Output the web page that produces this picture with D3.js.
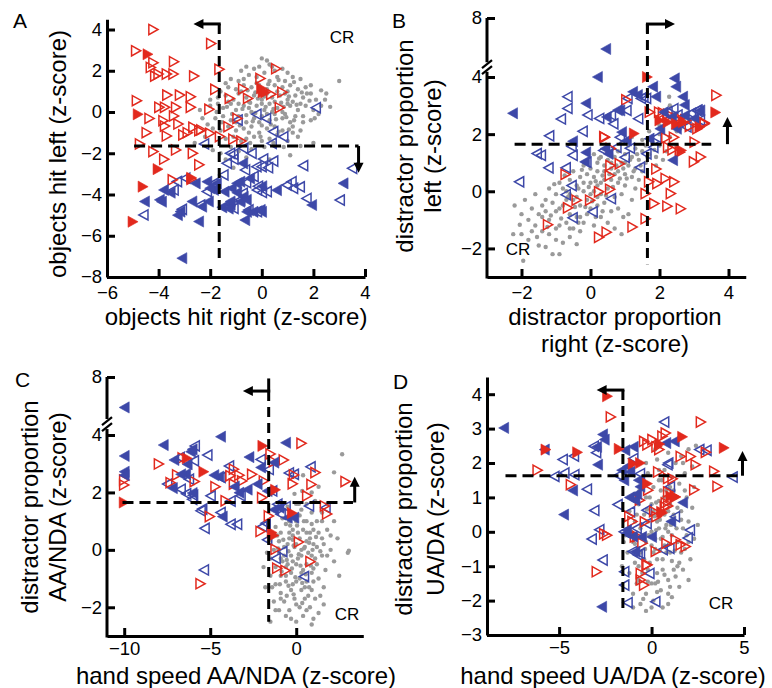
<!DOCTYPE html>
<html><head><meta charset="utf-8">
<script src="https://cdn.jsdelivr.net/npm/d3@7"></script>
<style>body{margin:0;background:#fff}svg{display:block}</style>
</head><body><svg id="c" width="772" height="688"></svg>
<script>
const FONT='"Liberation Sans", Arial, Helvetica, sans-serif';
const RED="#e2291d", BLUE="#3d48a8", GRAY="#9a9a9a";

// ---------- Panel A ----------
const A_xTicks=[-6,-4,-2,0,2,4];
const A_yTicks=[-8,-6,-4,-2,0,2,4];
const A_gray=[[0,2.6],[0.2,2.5],[0.3,2.3],[-0.6,2.2],[-0.3,2.1],[-0.8,2.0],[0.5,2.0],[0.8,2.1],[1.0,1.9],[-0.1,2.2],[0.4,2.2],
[-1.2,1.6],[-0.5,1.8],[-0.2,1.7],[0.1,1.9],[0.6,1.7],[1.2,1.7],[1.5,1.6],[-0.9,1.5],[0.3,1.5],[0.9,1.5],[3.0,1.5],[-1.4,1.4],[-0.7,1.6],
[-1.6,1.0],[-1.3,1.2],[-1.0,1.1],[-0.7,1.3],[-0.4,1.2],[-0.1,1.3],[0.2,1.1],[0.5,1.3],[0.8,1.2],[1.1,1.3],[1.4,1.1],[1.7,1.2],[2.3,1.05],[-0.8,1.0],[0.0,1.0],[0.6,1.0],[1.0,1.0],[1.9,1.3],[-0.2,1.4],
[-2.0,0.6],[-1.7,0.7],[-1.4,0.8],[-1.1,0.6],[-0.9,0.9],[-0.6,0.7],[-0.3,0.8],[0.0,0.6],[0.2,0.9],[0.4,0.7],[0.7,0.8],[1.0,0.6],[1.3,0.8],[1.6,0.7],[1.9,0.9],[2.45,0.6],[1.75,0.9],[-0.5,0.5],[0.5,0.5],[1.2,0.5],[-1.3,0.5],[0.9,0.9],[2.1,0.6],
[-2.4,0.1],[-2.0,0.3],[-1.75,0.0],[-1.5,0.2],[-1.2,0.4],[-1.0,0.1],[-0.7,0.3],[-0.4,0.0],[-0.2,0.3],[0.1,0.1],[0.3,0.4],[0.6,0.2],[0.8,0.0],[1.1,0.3],[1.4,0.1],[1.7,0.3],[2.0,0.1],[2.65,0.25],[2.3,0.3],[-0.9,0.4],[0.4,0.0],[1.0,0.4],[1.5,0.4],[-0.5,0.2],[0.0,0.4],
[-2.1,-0.6],[-1.8,-0.3],[-1.5,-0.2],[-1.2,-0.4],[-0.9,-0.2],[-0.6,-0.5],[-0.3,-0.3],[0.0,-0.2],[0.3,-0.4],[0.5,-0.1],[0.8,-0.3],[1.1,-0.5],[1.3,-0.2],[1.6,-0.2],[1.9,-0.4],[-0.1,-0.5],[0.9,-0.1],[-1.0,-0.5],[2.2,-0.1],
[-1.9,-0.8],[-1.6,-0.9],[-1.3,-0.7],[-1.0,-0.9],[-0.7,-0.8],[-0.4,-0.7],[-0.1,-1.0],[0.2,-0.8],[0.5,-0.7],[0.8,-0.9],[1.2,-0.7],[1.5,-0.9],[-0.5,-1.0],[0.0,-0.65],
[-2.6,-1.5],[-2.2,-1.2],[-1.4,-1.3],[-1.1,-1.2],[-0.8,-1.4],[-0.3,-1.2],[0.3,-1.3],[0.6,-1.1],[1.0,-1.4],[1.4,-1.2],[-0.6,-1.3],[0.0,-1.4],
[-1.9,-1.85],[-1.2,-1.7],[-0.9,-1.9],[-0.4,-1.8],[0.1,-1.7],[0.85,-1.7],[2.0,-1.5],[1.5,-1.65],[-1.6,-2.0],
[1.1,-2.1],[-1.1,-2.7],[-0.6,-2.2],[0.3,-2.3],[-1.4,-2.3],
[-0.75,0.15],[-0.45,0.45],[-0.15,0.65],[0.15,0.25],[0.45,0.15],[0.75,0.45],[1.05,0.75],[1.35,0.35],[-0.6,-0.15],[-0.25,-0.05],[0.2,-0.1],[0.55,-0.35],[0.95,-0.25],[1.25,-0.4],[-0.85,-0.65],[-0.35,-0.45],[0.35,-0.6],[0.65,-0.95],[1.05,-0.85],[-1.15,-0.1],[-1.35,0.25],[-0.55,1.05],[-0.25,0.95],[0.25,1.35],[0.65,1.55],[1.25,1.45],[1.55,0.95],[1.85,0.55],[2.05,-0.3],[-1.55,-0.5],[-0.05,-1.2],[0.45,-1.5],[1.2,-1.0],[0.1,0.75],[0.85,0.25],[-0.45,-1.5],[-1.7,0.4],[1.6,-0.5],[2.5,0.9],[-2.3,-0.3]];
const A_redOpen=[[-4.2,4.0],[-1.96,3.32],[-4.87,2.97],[-3.4,2.44],[-4.2,2.39],[-4.3,2.16],[-4.13,1.74],[-4.0,1.84],[-3.68,1.84],[-3.42,1.84],[-2.62,1.74],[-1.64,2.07],[0.56,2.1],[-0.05,1.63],[-1.8,1.1],[-0.72,1.12],[-4.84,0.55],[-3.66,0.82],[-3.17,0.82],[-2.75,0.74],[-1.24,0.66],[-0.53,0.66],[0.37,0.86],[0.8,0.96],[-3.97,0.23],[-3.75,0.23],[-3.32,0.23],[-2.75,0.23],[-2.03,0.13],[-4.35,-0.31],[-3.4,-0.19],[-3.81,-0.42],[-3.75,-0.68],[-3.23,-0.58],[-2.65,-0.74],[-4.46,-1.0],[-3.68,-1.16],[-3.04,-1.11],[-2.87,-1.0],[-2.42,-0.9],[-2.0,-1.03],[-1.29,-0.71],[-0.94,-0.31],[-1.62,-1.19],[-1.1,-1.32],[-4.72,-1.55],[-4.2,-1.92],[-3.32,-1.84],[-2.67,-2.0],[-3.78,-2.29],[-2.42,-2.56],[-3.45,-3.29],[-2.72,-3.26],[0.7,0.21],[-0.79,-1.41],[-2.34,-0.87]];
const A_redFill=[[-4.41,2.8],[-4.79,-0.11],[-4.02,-2.77],[-4.6,-3.62],[-4.99,-5.32],[-2.72,-3.19],[-0.01,1.15],[0.05,0.96],[0.15,0.95]];
const A_blueOpen=[[2.09,0.21],[-0.21,-0.11],[0.16,-0.31],[-0.94,-0.39],[0.44,-0.95],[0.83,-1.2],[0.38,-1.52],[-0.72,-1.76],[-0.4,-2.0],[-1.11,-2.05],[0.05,-2.28],[0.44,-2.38],[-0.01,-2.65],[0.24,-2.7],[1.6,-2.6],[3.5,-2.73],[1.15,-3.38],[1.47,-3.63],[1.21,-3.7],[0.96,-3.54],[1.73,-4.19],[3.02,-4.27],[-1.23,-2.0],[-1.36,-2.49],[-1.1,-2.29],[-2.24,-1.55],[-0.65,-2.81],[-1.49,-3.05],[-0.32,-3.13],[-0.19,-3.78],[0.19,-3.86],[-0.61,-3.42],[-0.74,-3.94],[-0.84,-4.26],[-0.52,-4.75],[-0.19,-4.83],[-1.87,-3.46],[-2.13,-3.86],[-2.39,-4.51],[-3.1,-4.72],[-3.42,-3.78],[-3.29,-3.37],[-2.97,-3.21],[-4.59,-4.99],[-1.23,-4.46],[-1.1,-4.67],[-0.21,-2.65],[-0.15,-3.6],[0.0,-3.9]];
const A_blueFill=[[3.15,-3.46],[1.93,-4.51],[0.57,-3.79],[-0.85,-3.38],[-0.98,-3.46],[-0.72,-4.11],[-0.85,-4.35],[-1.24,-4.51],[-0.59,-4.84],[-0.34,-4.84],[-0.01,-4.84],[-0.66,-5.24],[-0.47,-3.22],[-0.74,-2.49],[-1.46,-3.86],[-1.87,-3.78],[-2.13,-3.38],[-2.58,-3.46],[-2.71,-4.34],[-2.45,-5.31],[-3.1,-7.09],[-3.55,-3.91],[-3.81,-3.78],[-3.97,-4.26],[-4.55,-4.34],[-3.17,-4.83],[-2.07,-4.34],[-2.33,-4.59],[-1.55,-4.62],[-1.23,-4.34],[-0.97,-3.91],[-0.6,-4.26],[0.0,-3.6],[-0.06,-4.75],[-3.89,-4.35],[-3.27,-5.0],[-1.76,-3.46],[-2.02,-3.7],[-1.3,-4.68],[-1.18,-3.7]];

// ---------- Panel B ----------
const B_xTicks=[-2,0,2,4];
const B_yTicks=[-2,0,2,4,8];
const B_gray=[[-1.95,-2.43],[-2.24,-1.5],[-2.05,-1.17],[-1.8,-1.7],[-1.5,-1.9],[-1.3,-1.95],[-1.1,-2.2],[-0.9,-2.2],[-1.6,-1.2],[-1.4,-1.4],[-1.2,-1.5],[-1.0,-1.7],[-0.8,-1.8],[-0.6,-1.6],[-0.4,-1.85],[-2.2,-0.5],[-2.0,-0.8],[-1.8,-1.0],[-1.7,-0.6],[-1.5,-0.8],[-1.3,-0.3],[-1.2,-1.0],[-1.0,-0.7],[-0.9,-1.2],[-0.7,-1.1],[-0.5,-1.3],[-0.3,-1.4],[-0.2,-1.1],[-1.9,-0.3],[-1.6,-0.1],[-1.4,-0.5],[-1.1,-0.4],[-0.8,-0.5],[-0.6,-0.8],[-0.4,-0.9],[-0.1,-0.8],[0.1,-1.2],[0.3,-0.9],[0.5,-1.1],[0.7,-1.3],[0.9,-1.5],[-1.2,0.1],[-1.0,-0.1],[-0.7,0.0],[-0.5,-0.3],[-0.3,-0.5],[-0.1,-0.3],[0.0,-0.6],[0.2,-0.5],[0.4,-0.4],[0.6,-0.7],[0.8,-0.6],[1.1,-0.8],[-0.9,0.3],[-0.6,0.4],[-0.4,0.2],[-0.2,0.0],[0.0,0.3],[0.1,0.0],[0.3,-0.1],[0.5,0.1],[0.7,-0.2],[0.9,-0.1],[1.2,-0.3],[-0.5,0.7],[-0.3,0.5],[-0.1,0.6],[0.1,0.5],[0.3,0.3],[0.4,0.7],[0.6,0.4],[0.8,0.3],[1.0,0.2],[1.3,0.1],[-0.2,0.9],[0.0,0.8],[0.2,1.0],[0.4,0.9],[0.6,0.8],[0.8,0.7],[1.0,0.6],[1.2,0.5],[1.4,0.4],[0.1,1.3],[0.3,1.2],[0.5,1.1],[0.7,1.2],[0.9,1.0],[1.1,0.9],[1.3,0.8],[1.5,0.7],[0.5,1.5],[0.8,1.4],[1.0,1.3],[1.2,1.2],[1.4,1.1],[1.6,1.0],[0.9,1.7],[1.1,1.6],[1.3,1.5],[1.5,1.4],[1.7,1.3],[1.9,1.2],[1.2,1.9],[1.5,1.8],[1.8,1.7],[2.0,1.6],[2.2,1.4],[1.7,2.1],[2.0,2.0],[2.3,1.9],[2.5,2.1],[2.2,2.4],[2.4,2.7],[2.7,2.5],[2.3,3.0],[2.0,2.3],[-0.2,0.3],[0.2,-0.2],[-0.7,-0.3],[-0.4,-0.2],[0.4,0.4],[0.7,0.6],[-0.8,0.1],[-1.4,-0.9],[-1.7,-1.4],[0.2,0.7],[0.6,1.3],[1.0,1.0],[-0.3,-0.9],[0.0,-0.1],[-2.0,-1.5],[-1.0,-1.3],[2.28,3.31],[2.6,2.2],[-1.3,-0.7],[-0.6,-0.1],[0.2,0.2],
[-0.9,-0.6],[-0.65,-0.2],[-0.35,0.1],[-0.05,0.15],[0.15,0.35],[0.35,0.55],[0.55,0.6],[0.75,0.9],[0.95,0.8],[1.15,1.1],[1.35,1.3],[-0.45,-0.55],[-0.15,-0.55],[0.05,-0.35],[0.45,-0.15],[0.65,0.15],[0.85,0.45],[1.05,0.45],[1.25,0.7],[1.45,0.9],[1.65,1.2],[1.85,1.45],[-1.15,-0.85],[-0.85,-0.95],[-0.6,-1.3],[-1.25,-1.25],[-1.55,-1.6],[-0.25,0.75],[0.25,1.15],[0.6,1.0],[1.6,1.6],[-0.75,0.55],[-1.05,0.25],[0.35,-0.7],[0.95,-0.9],[1.9,0.9],[2.1,1.1],[2.5,1.6],[-0.35,-1.1],[0.15,-0.9]];
const B_redOpen=[[3.65,3.36],[1.04,3.2],[1.72,2.77],[1.99,2.77],[2.25,2.7],[2.59,2.54],[2.78,2.48],[3.31,2.36],[2.88,2.27],[3.1,2.19],[0.42,1.89],[2.2,1.87],[2.42,1.89],[3.02,1.72],[2.25,1.54],[2.59,1.37],[2.38,1.45],[3.0,1.03],[3.2,1.2],[0.58,0.9],[-0.72,0.59],[0.56,0.55],[0.85,0.96],[1.91,0.78],[1.7,0.33],[1.94,0.27],[2.18,0.45],[2.43,0.33],[1.6,-0.08],[2.33,-0.08],[0.57,0.07],[0.25,-0.02],[-0.01,-0.31],[-0.4,-0.31],[-0.65,-0.58],[1.85,-0.43],[2.23,-0.52],[2.62,-0.61],[-1.23,-1.17],[1.22,-1.25],[1.6,-0.96],[0.25,-1.61],[0.47,-1.43],[0.4,1.91],[0.59,1.5],[2.23,2.6],[2.5,2.55],[2.75,2.5],[3.3,2.4],[2.1,2.75]];
const B_redFill=[[1.65,4.0],[3.63,2.76],[1.27,2.02],[2.01,2.48],[2.49,2.36],[2.69,2.42],[2.25,2.42],[2.64,1.43],[3.17,2.25]];
const B_blueOpen=[[-1.56,1.32],[-1.44,1.26],[-1.2,1.94],[-1.22,0.82],[-0.86,2.53],[-0.67,2.9],[-0.67,3.31],[-0.52,1.26],[-0.23,2.1],[-0.09,2.67],[0.25,2.55],[0.59,2.67],[-0.55,1.57],[-0.72,0.82],[-0.72,-0.12],[-0.52,-0.93],[0.06,-0.72],[0.59,-0.26],[-0.12,1.02],[0.37,1.43],[0.66,2.36],[1.04,2.83],[0.85,1.89],[0.75,1.54],[0.99,1.19],[1.14,1.51],[1.38,2.54],[1.53,3.3],[1.07,3.25],[1.46,3.25],[1.61,3.25],[1.82,1.54],[1.91,1.89],[2.4,2.89],[2.78,2.25],[3.07,2.83],[3.17,2.48],[2.23,2.78],[2.52,2.67],[2.91,2.73],[3.1,2.84],[1.62,1.31],[1.43,0.84],[-2.07,0.33],[-0.55,0.2]];
const B_blueFill=[[0.44,5.9],[0.2,4.0],[-2.26,2.73],[-0.14,3.08],[0.85,2.83],[1.22,3.48],[1.36,3.37],[1.8,3.66],[2.43,3.95],[2.47,3.66],[1.89,3.31],[2.67,3.31],[2.72,3.02],[3.17,2.83],[2.11,2.77],[2.35,2.6],[2.49,2.19],[2.01,2.19],[1.7,1.84],[2.38,1.09],[0.9,2.07],[1.04,1.78],[0.42,1.49],[-0.17,1.03],[-0.14,1.36],[-0.52,1.75],[0.46,2.6],[0.51,1.31],[0.78,2.84],[3.0,2.55],[2.73,2.65]];

// ---------- Panel C ----------
const C_xTicks=[-10,-5,0];
const C_yTicks=[-2,0,2,4,8];
const C_gray=[[2.67,3.33],[2.2,2.7],[1.3,2.2],[0.9,2.0],[0.35,2.05],[-0.1,1.95],[1.8,1.6],[1.1,1.7],[0.6,1.6],[0.0,1.6],[-0.5,1.5],[1.5,1.3],[0.9,1.3],[0.3,1.4],[-0.3,1.2],[-0.8,1.1],[2.2,1.0],[1.2,1.0],[0.6,1.0],[0.0,1.0],[-0.6,0.9],[-1.2,0.8],[1.8,0.7],[1.0,0.7],[0.4,0.7],[-0.2,0.7],[-0.9,0.6],[2.4,0.4],[1.5,0.4],[0.8,0.4],[0.2,0.4],[-0.4,0.4],[-1.0,0.3],[-1.6,0.3],[1.2,0.1],[0.5,0.1],[-0.1,0.1],[-0.7,0.1],[-1.3,0.0],[2.0,0.0],[3.0,-0.1],[1.5,-0.2],[0.9,-0.2],[0.3,-0.2],[-0.3,-0.2],[-0.9,-0.3],[-1.5,-0.3],[2.2,-0.4],[1.2,-0.5],[0.6,-0.5],[0.0,-0.5],[-0.6,-0.6],[-1.2,-0.6],[-1.9,-0.6],[1.7,-0.7],[0.9,-0.8],[0.3,-0.8],[-0.3,-0.8],[-0.9,-0.9],[-1.5,-0.9],[2.5,-0.9],[1.3,-1.0],[0.6,-1.1],[0.0,-1.1],[-0.6,-1.1],[-1.2,-1.2],[1.6,-1.3],[0.9,-1.4],[0.3,-1.4],[-0.3,-1.4],[-0.9,-1.5],[1.1,-1.7],[0.5,-1.7],[-0.1,-1.7],[-0.7,-1.8],[-1.3,-1.8],[1.6,-1.9],[0.8,-2.0],[0.2,-2.0],[-0.4,-2.1],[-1.0,-2.1],[1.3,-2.2],[0.4,-2.3],[-0.6,-2.3],[-1.5,-2.5],[1.0,-2.4],[0.0,-2.5],
[0.1,0.6],[-0.5,0.2],[0.7,-0.1],[-0.2,-0.4],[0.4,-0.7],[-0.8,-0.4],[1.0,0.2],[-0.4,1.0],[0.2,1.2],[0.6,0.3],[-1.0,-0.1],[0.9,0.9],[1.3,0.6],[-0.6,-0.9],[0.2,-1.0],[-0.2,-1.2],[0.5,-1.3],[1.0,-1.1],[-1.1,0.5],[-0.4,0.6],[0.0,0.2],[0.3,0.0],[-0.7,-0.2],[1.6,0.2],[-1.4,-1.3],[-0.9,-1.7],[0.7,-1.6],[-1.2,-2.1],[0.0,-1.9],[0.6,-2.1],[1.8,-0.2],[-0.2,0.5],[0.8,0.6],[-0.5,-0.5],[0.1,-0.3],[1.1,-0.3],[-1.7,-0.1],[3.06,-0.03],
[-0.45,-0.05],[-0.15,0.15],[0.15,-0.15],[0.45,0.05],[0.75,0.25],[-0.75,0.35],[-0.35,0.85],[0.05,0.85],[0.45,1.0],[-0.55,-0.35],[-0.25,-0.65],[0.25,-0.55],[0.55,-0.85],[0.85,-0.55],[-0.85,-0.75],[-0.45,-1.25],[-0.05,-0.95],[0.35,-1.15],[0.75,-1.3],[-1.05,0.05],[-1.3,0.55],[1.15,0.45],[1.4,-0.05],[1.0,-0.65],[0.15,1.6],[-0.75,1.4],[-0.15,-1.55],[0.35,-1.85],[-0.55,-1.6],[1.4,-1.6],[-0.95,-1.2],[0.6,0.6],[-0.2,0.35],[0.95,0.0],[-1.8,-1.3],[2.0,0.5],[1.5,1.0],[0.4,2.6],[-0.3,-2.4],[0.9,-2.6]];
const C_redOpen=[[0.31,3.71],[-1.49,3.34],[-1.3,3.07],[-0.72,3.13],[-7.98,2.99],[-7.3,2.34],[-6.92,2.61],[-5.9,2.38],[-6.6,3.2],[-10.0,2.43],[-10.0,2.26],[-5.02,1.16],[-5.56,-1.18],[-4.69,2.2],[-4.1,1.71],[-3.62,2.81],[-3.82,2.58],[-3.62,2.29],[-3.14,2.4],[-2.56,2.63],[-1.88,2.4],[-0.13,2.61],[0.89,2.28],[0.64,1.88],[1.67,1.53],[1.8,1.25],[2.87,2.38],[1.12,2.69],[-2.07,0.64],[-1.59,1.18],[-1.2,0.02],[0.16,0.27],[0.83,-0.41],[-1.1,-0.64],[-0.62,-0.72],[-0.2,2.3],[-3.3,2.6],[-1.98,1.82]];
const C_redFill=[[-10.0,1.65],[-6.34,3.19],[-5.37,2.72],[-1.94,3.62],[-1.2,2.09],[-0.23,1.28],[-1.4,0.6],[-1.3,0.5]];
const C_blueOpen=[[-5.9,3.62],[-5.17,3.3],[-5.95,3.1],[-6.78,3.22],[-7.5,2.29],[-6.72,2.11],[-6.05,1.76],[-5.56,1.36],[-5.47,1.42],[-5.33,0.75],[-6.24,2.46],[-4.98,1.88],[-4.4,1.3],[-3.82,0.89],[-3.44,0.89],[-3.82,1.7],[-3.24,1.88],[-3.91,2.92],[-1.6,2.8],[-0.43,2.68],[0.83,2.89],[0.74,1.53],[1.7,1.47],[-1.78,0.93],[-1.98,0.81],[-1.69,0.35],[-0.81,-0.06],[-1.2,-0.3],[0.45,-0.93],[-5.37,-0.7],[-1.1,1.59],[-0.91,1.24],[-4.4,2.52],[-1.4,2.05],[-2.07,3.15],[-0.14,2.63],[-0.62,1.5],[-6.4,1.95],[-6.0,1.9]];
const C_blueFill=[[-10.0,5.9],[-10.0,3.27],[-10.0,2.72],[-10.0,2.6],[-7.73,3.65],[-7.11,3.13],[-6.14,3.42],[-6.05,3.5],[-6.43,2.64],[-7.2,2.15],[-6.05,1.98],[-4.4,3.94],[-4.5,2.55],[-4.3,1.16],[-3.33,1.99],[-2.85,2.1],[-2.75,3.23],[-2.07,2.87],[-2.27,2.29],[-1.69,2.05],[-0.62,3.73],[-1.0,1.47],[-0.52,1.12],[-0.14,1.12],[-4.79,2.6],[-1.3,3.04],[-6.72,2.63],[-6.34,2.98],[-3.6,2.2],[-1.3,1.4]];

// ---------- Panel D ----------
const D_xTicks=[-5,0,5];
const D_yTicks=[-3,-2,-1,0,1,2,3,4];
const D_gray=[[2.4,2.5],[2.0,2.4],[1.6,2.2],[0.9,2.3],[1.3,2.0],[0.3,2.1],[2.2,1.9],[0.7,1.8],[1.8,1.7],[-0.2,1.7],[1.1,1.6],[0.4,1.5],[1.5,1.4],[2.3,1.3],[-0.5,1.4],[0.1,1.3],[0.8,1.2],[1.9,1.0],[-0.9,1.1],[1.3,1.0],[-0.3,1.0],[0.4,0.9],[2.2,0.7],[1.0,0.8],[-0.7,0.8],[1.6,0.6],[0.1,0.6],[-1.2,0.6],[0.7,0.5],[-0.4,0.5],[2.0,0.3],[1.2,0.3],[0.3,0.3],[-0.9,0.3],[1.7,0.1],[0.9,0.0],[0.0,0.0],[-0.6,0.1],[-1.4,-0.1],[2.3,-0.2],[1.4,-0.3],[0.5,-0.2],[-0.3,-0.3],[-1.0,-0.3],[1.8,-0.5],[1.0,-0.6],[0.2,-0.5],[-0.6,-0.6],[-1.3,-0.6],[2.1,-0.8],[1.5,-0.9],[0.6,-0.8],[-0.1,-0.9],[-0.9,-0.9],[1.2,-1.1],[0.3,-1.2],[-0.5,-1.2],[-1.2,-1.2],[2.0,-1.4],[0.9,-1.4],[0.0,-1.5],[-0.8,-1.5],[1.5,-1.6],[0.5,-1.7],[-0.3,-1.8],[-1.0,-1.8],[1.1,-1.9],[0.1,-2.0],[-0.6,-2.1],[0.6,-2.2],[-1.0,-2.2],[-0.3,-2.3],
[0.4,0.1],[1.1,-0.1],[-0.2,0.3],[0.7,-0.4],[0.3,-0.8],[0.9,0.6],[-0.1,1.0],[0.5,1.2],[1.4,0.7],[-0.5,-0.1],[0.2,-0.2],[0.8,0.2],[1.6,-0.6],[-0.4,-0.8],[0.6,-1.1],[1.3,-1.3],[-0.7,-1.4],[0.2,-1.5],[0.9,-1.8],[-0.2,-1.1],[0.0,0.8],[1.0,1.3],[1.8,1.2],[-0.8,0.5],[0.5,0.6],[1.9,-0.1],[2.5,0.2],[-1.1,0.0],[0.1,-0.6],[1.2,0.5],[0.4,1.8],[-0.3,2.0],[1.4,-1.0],
[0.15,0.45],[0.45,0.35],[0.75,0.1],[1.05,0.2],[1.35,0.1],[-0.15,-0.1],[0.25,0.05],[0.6,-0.15],[0.95,-0.35],[1.25,-0.55],[-0.35,-0.5],[0.0,-0.4],[0.45,-0.55],[0.8,-0.6],[1.1,-0.85],[-0.55,0.2],[-0.25,0.65],[0.25,0.85],[0.65,1.0],[1.1,0.95],[1.6,0.35],[-0.7,-1.0],[-0.2,-1.45],[0.35,-1.45],[0.7,-1.25],[1.0,-1.6],[-0.45,-1.95],[0.3,-1.75],[-0.9,-0.35],[1.7,-1.1],[0.55,1.5],[1.2,1.2],[-0.65,1.2],[2.0,-0.3],[-1.5,-0.3],[0.0,-2.2],[0.9,-2.1],[0.2,2.4],[1.7,2.0],[-1.6,-1.0]];
const D_redOpen=[[-2.2,3.34],[2.67,3.19],[-0.4,2.63],[0.05,2.68],[-0.22,2.53],[0.77,2.87],[0.42,2.39],[1.58,2.19],[2.12,2.19],[2.94,2.31],[2.39,1.95],[3.39,1.76],[3.57,1.32],[2.31,1.22],[1.14,1.54],[-6.16,1.79],[-4.36,1.37],[-2.56,-0.06],[-2.4,-0.1],[-2.96,-1.16],[0.77,0.84],[0.9,0.75],[0.14,0.59],[-1.2,0.45],[-1.03,0.3],[-0.76,-0.14],[-0.49,-0.33],[1.31,-0.23],[1.58,-0.38],[1.85,-0.43],[0.23,-0.57],[-0.22,-0.96],[-0.58,-1.21],[-0.58,-1.4],[-0.4,-1.55],[0.59,2.78],[0.27,2.47],[0.36,1.74],[0.9,1.55],[-0.18,1.21],[0.9,1.16],[1.26,1.02],[-0.63,0.92],[-0.36,0.29],[0.27,0.44],[0.72,0.73],[-0.9,-0.15],[0.81,-0.34],[-0.27,-0.97]];
const D_redFill=[[-2.38,3.94],[3.93,2.44],[1.68,2.76],[-4.0,2.31],[-5.71,2.39],[-1.75,2.41],[-0.6,2.0],[-0.99,1.98],[-0.22,1.4],[1.04,1.03],[1.31,1.01],[0.6,0.55],[0.45,2.55],[0.54,0.58]];
const D_blueOpen=[[0.68,3.19],[2.58,2.39],[4.38,1.59],[0.86,1.95],[-4.81,2.1],[-4.2,2.2],[-5.26,1.61],[-4.72,1.71],[-4.18,1.66],[-3.5,1.24],[-3.1,0.62],[-2.83,0.06],[-3.24,-0.21],[-2.65,-0.82],[-3.13,2.49],[-3.0,2.3],[-1.84,0.79],[1.95,-0.18],[0.96,-0.48],[0.6,-0.52],[-1.03,-0.57],[-0.76,-0.67],[-0.12,-1.21],[-1.48,-1.16],[-1.48,-1.55],[-1.3,-2.06],[0.2,-2.03],[-1.8,1.64],[-1.17,0.58],[-0.81,0.1],[-1.5,0.0],[-0.27,0.24],[-0.63,-0.63],[0.99,1.31],[1.26,0.44],[2.07,0.05],[-0.27,0.63],[-0.63,1.69],[-0.99,2.13],[0.9,2.0],[2.97,2.37]];
const D_blueFill=[[-8.0,3.02],[-5.8,2.39],[-4.27,1.2],[-4.76,0.5],[-2.7,-2.18],[-2.65,2.83],[-2.56,2.68],[-2.92,1.95],[-2.97,2.47],[-1.44,2.37],[-0.99,2.47],[-1.62,1.79],[-1.17,1.74],[-0.72,1.5],[-0.63,1.31],[-0.9,0.92],[-1.2,1.0],[-0.8,1.1],[0.77,2.58],[1.23,2.63],[1.68,0.85],[1.04,0.3],[-1.39,-0.04],[-1.03,-0.14],[-0.54,-0.15],[0.0,-0.15],[-0.9,-0.58],[-1.35,0.05],[-1.5,1.5],[-1.3,1.9]];

const svg=d3.select("#c");

function triPath(dir,open){const w=open?4.6:5,h=open?5.1:5.6;return `M${-w*dir},${-h}L${w*dir},0L${-w*dir},${h}Z`;}

function arrow(g,x1,y1,x2,y2){
  const dx=x2-x1,dy=y2-y1,len=Math.hypot(dx,dy),ux=dx/len,uy=dy/len,hl=10,hw=5;
  g.append("line").attr("x1",x1).attr("y1",y1).attr("x2",x2-ux*hl*0.7).attr("y2",y2-uy*hl*0.7)
    .attr("stroke","#000").attr("stroke-width",3);
  const bx=x2-ux*hl,by=y2-uy*hl;
  g.append("path").attr("d",`M${x2},${y2}L${bx-uy*hw},${by+ux*hw}L${bx+uy*hw},${by-ux*hw}Z`).attr("fill","#000");
}

function panel(p){
  const x=d3.scaleLinear().domain(p.xDom).range(p.xRange);
  const y=d3.scaleLinear().domain(p.yDom).range(p.yRange);
  const g=svg.append("g");
  g.append("g").selectAll("circle").data(p.gray).join("circle")
    .attr("cx",d=>x(d[0])).attr("cy",d=>y(d[1])).attr("r",2.2).attr("fill",GRAY);
  [{d:p.blueOpen,c:BLUE,dir:-1,o:true},{d:p.redOpen,c:RED,dir:1,o:true},
   {d:p.blueFill,c:BLUE,dir:-1,o:false},{d:p.redFill,c:RED,dir:1,o:false}].forEach(s=>{
    g.append("g").selectAll("path").data(s.d).join("path")
      .attr("transform",d=>`translate(${x(d[0])},${y(d[1])})`)
      .attr("d",triPath(s.dir,s.o))
      .attr("fill",s.o?"none":s.c).attr("stroke",s.c).attr("stroke-width",s.o?1.5:0.6);
  });
  const L=p.lines;
  g.append("line").attr("x1",x(L.vx)).attr("x2",x(L.vx)).attr("y1",y(L.vTop)).attr("y2",y(L.vBot))
    .attr("stroke","#000").attr("stroke-width",3).attr("stroke-dasharray","10,6");
  if(L.stub) g.append("line").attr("x1",x(L.vx)).attr("x2",x(L.vx)).attr("y1",y(L.stub[0])).attr("y2",y(L.stub[1]))
    .attr("stroke","#000").attr("stroke-width",3);
  arrow(g,x(L.vx)+(L.topDir<0?1.5:-1.5),y(L.vTop),x(L.topTo),y(L.vTop));
  g.append("line").attr("x1",x(L.hx0)).attr("x2",x(L.hx1)).attr("y1",y(L.hy)).attr("y2",y(L.hy))
    .attr("stroke","#000").attr("stroke-width",3).attr("stroke-dasharray","11,6");
  arrow(g,x(L.sx),y(L.sy0),x(L.sx),y(L.sy1));
  const ax=g.append("g").attr("transform",`translate(0,${p.yRange[0]})`)
    .call(d3.axisBottom(x).tickValues(p.xTicks).tickSizeInner(-8).tickSizeOuter(0).tickPadding(p.xPad));
  const ay=g.append("g").attr("transform",`translate(${p.xRange[0]},0)`)
    .call(d3.axisLeft(y).tickValues(p.yTicks).tickSizeInner(-8).tickSizeOuter(0).tickPadding(5));
  [ax,ay].forEach(a=>{
    a.attr("font-family",FONT).attr("font-size",18.5);
    a.selectAll(".tick line").attr("stroke","#000").attr("stroke-width",3);
    a.selectAll(".tick text").attr("fill","#000");
    a.select(".domain").attr("stroke","#000").attr("stroke-width",3);
  });
  if(p.brk){
    ay.select(".domain").remove();
    const x0=p.xRange[0], yb=p.yRange[0], yt=p.yRange[p.yRange.length-1];
    const g1=y(p.brk[0]), g2=y(p.brk[1]);
    g.append("line").attr("x1",x0).attr("x2",x0).attr("y1",yb+1.5).attr("y2",g1).attr("stroke","#000").attr("stroke-width",3);
    g.append("line").attr("x1",x0).attr("x2",x0).attr("y1",g2).attr("y2",yt).attr("stroke","#000").attr("stroke-width",3);
    const ym=(g1+g2)/2;
    [-3,3].forEach(o=>g.append("line").attr("x1",x0-5).attr("y1",ym+o+4).attr("x2",x0+5).attr("y2",ym+o-4)
      .attr("stroke","#000").attr("stroke-width",2.2));
  }
  const t=(s,xx,yy,size,anchor,rot)=>{
    const e=svg.append("text").text(s).attr("font-family",FONT).attr("font-size",size)
      .attr("text-anchor",anchor||"middle").attr("fill","#000");
    if(rot) e.attr("transform",`translate(${xx},${yy}) rotate(-90)`); else e.attr("x",xx).attr("y",yy);
  };
  t(p.letter,p.letterPos[0],p.letterPos[1],21,"start");
  p.xTitle.forEach((s,i)=>t(s,p.xTitlePos[0],p.xTitlePos[1]+i*27,24));
  p.yTitle.forEach((s,i)=>t(s,p.yTitlePos[0]+i*p.yTitleGap,p.yTitlePos[1],24,"middle",true));
  t("CR",p.crPos[0],p.crPos[1],17);
}

panel({xDom:[-6,4],xRange:[107,365],yDom:[-8,4.5],yRange:[277,19.2],xTicks:A_xTicks,yTicks:A_yTicks,xPad:9,
  gray:A_gray,redOpen:A_redOpen,redFill:A_redFill,blueOpen:A_blueOpen,blueFill:A_blueFill,
  lines:{vx:-1.65,vTop:4.27,vBot:-7.1,topTo:-2.65,topDir:-1,hy:-1.65,hx0:-4.95,hx1:3.75,sx:3.75,sy0:-1.65,sy1:-2.95},
  letter:"A",letterPos:[13,28],xTitle:["objects hit right (z-score)"],xTitlePos:[236,325],
  yTitle:["objects hit left (z-score)"],yTitlePos:[66,154],yTitleGap:0,crPos:[342,43]});

panel({xDom:[-3,4.5],xRange:[487,745.75],yDom:[-3,4,8],yRange:[277,77,18],xTicks:B_xTicks,yTicks:B_yTicks,brk:[4.35,5.0],xPad:9,
  gray:B_gray,redOpen:B_redOpen,redFill:B_redFill,blueOpen:B_blueOpen,blueFill:B_blueFill,
  lines:{vx:1.65,vTop:7.59,vBot:-2.55,stub:[7.0,7.59],topTo:2.45,topDir:1,hy:1.65,hx0:-2.2,hx1:3.5,sx:3.97,sy0:1.65,sy1:2.6},
  letter:"B",letterPos:[392,28],xTitle:["distractor proportion","right (z-score)"],xTitlePos:[615,325],
  yTitle:["distractor proportion","left (z-score)"],yTitlePos:[413,146],yTitleGap:28,crPos:[518,255]});

panel({xDom:[-11,3.9],xRange:[107,363.3],yDom:[-3,4,8],yRange:[636,435,377],xTicks:C_xTicks,yTicks:C_yTicks,brk:[4.41,5.1],xPad:6,
  gray:C_gray,redOpen:C_redOpen,redFill:C_redFill,blueOpen:C_blueOpen,blueFill:C_blueFill,
  lines:{vx:-1.6,vTop:7.03,vBot:-2.5,stub:[7.03,7.9],topTo:-3.1,topDir:-1,hy:1.65,hx0:-10.1,hx1:3.3,sx:3.4,sy0:1.65,sy1:2.55},
  letter:"C",letterPos:[15,387],xTitle:["hand speed AA/NDA (z-score)"],xTitlePos:[236,684],
  yTitle:["distractor proportion","AA/NDA (z-score)"],yTitlePos:[38,507],yTitleGap:28,crPos:[347,620]});

panel({xDom:[-8.9,5],xRange:[487,744],yDom:[-3,4.5],yRange:[635,377],xTicks:D_xTicks,yTicks:D_yTicks,xPad:6,
  gray:D_gray,redOpen:D_redOpen,redFill:D_redFill,blueOpen:D_blueOpen,blueFill:D_blueFill,
  lines:{vx:-1.55,vTop:4.12,vBot:-2.25,topTo:-2.97,topDir:-1,hy:1.63,hx0:-7.9,hx1:4.78,sx:4.92,sy0:1.63,sy1:2.35},
  letter:"D",letterPos:[393,389],xTitle:["hand speed UA/DA (z-score)"],xTitlePos:[613,684],
  yTitle:["distractor proportion","UA/DA (z-score)"],yTitlePos:[412,509],yTitleGap:32,crPos:[721,609]});
</script></body></html>
